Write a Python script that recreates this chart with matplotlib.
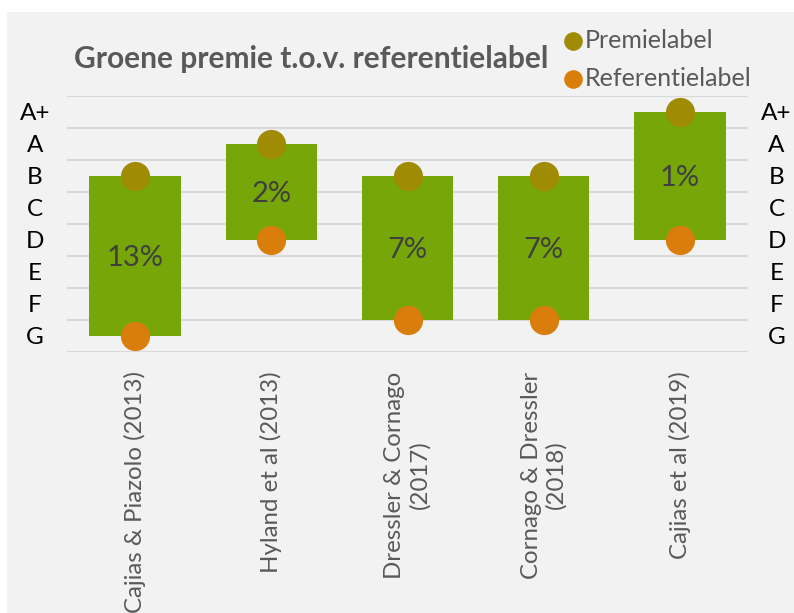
import matplotlib.pyplot as plt
import matplotlib.transforms as mtransforms
from matplotlib.patches import Rectangle

plt.rcParams['font.family'] = ['Lato', 'DejaVu Sans']

# studies and energy label positions (0 = bottom of G band, 8 = top of A+ band)
studies = ["Cajias & Piazolo (2013)", "Hyland et al (2013)",
           "Dressler & Cornago\n(2017)", "Cornago & Dressler\n(2018)",
           "Cajias et al (2019)"]
premie = [5.5, 6.5, 5.5, 5.5, 7.5]
referentie = [0.5, 3.5, 1.0, 1.0, 3.5]
premie_pct = ["13%", "2%", "7%", "7%", "1%"]
label_names = ["G", "F", "E", "D", "C", "B", "A", "A+"]  # bottom to top

green = "#76A608"
olive = "#A08B05"
orange = "#D97E0B"
grey_txt = "#595959"

fig = plt.figure(figsize=(7.94, 6.13), dpi=100)
fig.patch.set_facecolor("white")
fig.add_artist(Rectangle((7 / 794, 0), 1, (613 - 12) / 613, transform=fig.transFigure,
                         facecolor="#F2F2F2", edgecolor="none", zorder=-10))

ax = fig.add_axes([67 / 794, (613 - 352) / 613, 681 / 794, 256 / 613])
ax.set_facecolor("none")
for s in ax.spines.values():
    s.set_visible(False)

x = list(range(len(studies)))
heights = [p - r for p, r in zip(premie, referentie)]
ax.bar(x, heights, bottom=referentie, width=0.67, color=green, zorder=2)
sc_p = ax.scatter(x, premie, s=400, color=olive, zorder=3, clip_on=False, label="Premielabel")
sc_r = ax.scatter(x, referentie, s=400, color=orange, zorder=3, clip_on=False, label="Referentielabel")

for xi, p, r, t in zip(x, premie, referentie, premie_pct):
    ax.text(xi, (p + r) / 2, t, ha="center", va="center_baseline", fontsize=21,
            color="#404040", zorder=4)

ax.set_xlim(-0.5, 4.5)
ax.set_ylim(0, 8)
ax.set_yticks(range(9))
ax.yaxis.grid(True, color="#D9D9D9", lw=1.5, zorder=0)
ax.tick_params(axis="y", length=0, labelleft=False)
ax.set_xticks(x)
ax.set_xticklabels(studies, rotation=90, color=grey_txt, fontsize=17.3,
                   va="top", ha="center", multialignment="center")
ax.tick_params(axis="x", length=0, pad=14)

trans = mtransforms.blended_transform_factory(ax.transAxes, ax.transData)
for i, name in enumerate(label_names):
    ax.text(-0.047, i + 0.5, name, transform=trans, ha="center", va="center_baseline",
            fontsize=17.5, color="black")
    ax.text(1.042, i + 0.5, name, transform=trans, ha="center", va="center_baseline",
            fontsize=17.5, color="black")

fig.text(74 / 794, 1 - 68 / 613, "Groene premie t.o.v. referentielabel", fontsize=21.5,
         fontweight="bold", color=grey_txt, va="baseline")

fig.legend(handles=[sc_p, sc_r], loc="upper left", bbox_to_anchor=(545 / 794, 1 - 16 / 613),
           frameon=False, markerscale=0.62, fontsize=18, handletextpad=-0.1,
           labelspacing=0.6, labelcolor=grey_txt, borderpad=0, handlelength=1.2)

plt.savefig("out.png", dpi=100)
